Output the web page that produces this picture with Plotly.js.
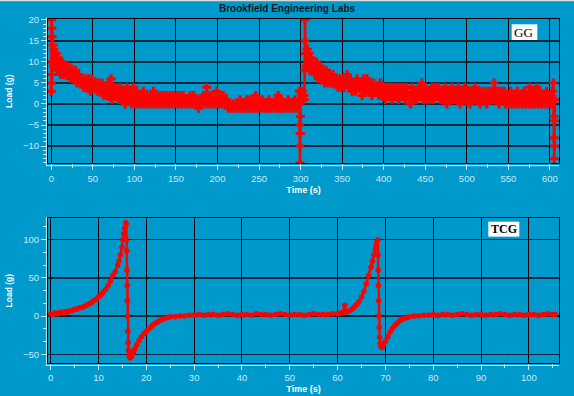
<!DOCTYPE html>
<html><head><meta charset="utf-8">
<script src="https://cdn.plot.ly/plotly-3.0.1.min.js"></script>
<style>html,body{margin:0;padding:0;background:#0099cc;} #chart{width:574px;height:396px;}</style>
</head><body><div id="chart"></div>
<script>
// ---- GG panel data (time s, load g) ----
const ggTime = [
 0,0.2,0.4,0.6,0.8,1,1.5,2,2.5,3,3.5,4,5,6,7,8,9,10,
 11,13,15,17,19,21,23,25,27,29,
 31,33,35,37,39,41,43,45,47,49,
 51,53,55,57,59,61,63,65,67,69,
 71,72,73,75,77,79,81,83,85,87,
 89,91,93,95,97,99,101,103,105,107,
 109,111,113,115,117,119,121,123,125,127,
 129,131,133,135,137,139,141,143,145,147,
 149,151,153,155,157,159,161,163,165,167,
 169,171,173,175,177,179,181,183,185,187,
 189,191,193,195,197,199,201,203,205,207,
 209,211,213,215,217,219,221,223,225,227,
 229,231,233,235,237,239,241,243,245,246,
 248,250,252,254,256,258,260,262,264,266,
 268,270,272,273,275,277,279,281,283,285,
 287,289,291,293,295,297,
 298,298.5,299,299.2,299.4,299.6,299.8,300,300.5,301,302,303,304,304.5,305,305.3,305.6,306,307,308,309,310,311,312,313,
 315,317,319,321,323,325,327,329,331,333,
 335,337,339,341,343,345,347,349,351,353,
 355,356,358,360,362,364,366,368,370,372,
 374,376,378,380,382,384,386,388,390,392,
 394,396,398,400,402,404,406,408,410,412,
 414,416,418,420,422,424,426,428,430,432,
 434,436,438,440,442,444,446,448,450,452,
 454,456,458,460,462,464,466,468,470,472,
 474,476,478,480,482,484,486,488,490,492,
 494,496,498,500,502,504,506,508,510,512,
 514,516,518,520,522,524,526,528,530,532,
 533,535,537,539,541,543,545,547,549,551,
 553,555,557,559,561,563,565,567,569,571,
 573,575,576,578,580,582,584,586,588,590,
 592,594,596,598,600,602,603,
 604,604.3,604.6,604.9,605.2,605.5,605.8,606.2
];
const ggLoad = [
 3,20,5,18,7,16,10,14,9,13,9,12,10,12,8,11,8,10,
 7,10,7,9,7,9,6,8,6,8,
 5,7,5,6,4,6,4,6,3,6,
 4,5,3,5,3,5,2,4,2,5,
 2,6,1,4,2,4,1,4,1,3,
 0,4,1,3,0,4,0,3,0,2,
 0,3,0,2,0,2,0,3,0,2,
 0,2,0,2,0,2,0,2,0,2,
 0,2,0,2,0,2,0,1,0,2,
 0,2,0,1,-1,1,0,2,0,4,
 0,2,0,2,0,3,0,2,0,2,
 0,1,-1,0,-1,0,-1,0,-1,1,
 -1,0,-1,1,-1,1,-1,1,-1,2,
 -1,1,-1,1,-1,0,-1,1,-1,0,
 -1,1,-1,2,-1,1,-1,0,-1,1,
 -1,0,-1,1,-1,0,
 0,3,-5,-14,-10,-7,-3,1,3,2,3,1,2,1,8,20,15,12,9,13,9,12,8,11,8,
 10,7,10,6,9,6,8,5,8,5,
 7,5,7,5,6,4,6,4,6,4,
 6,7,4,6,3,5,3,6,4,5,
 2,6,3,6,3,5,2,5,3,4,
 2,5,2,4,1,4,2,4,1,4,
 2,4,1,4,2,4,1,4,2,0,
 4,1,3,1,4,2,5,1,4,1,
 3,1,4,1,4,2,4,1,3,1,
 4,0,3,1,4,1,3,1,4,0,
 3,1,4,1,3,0,3,1,4,1,
 3,0,3,1,3,0,3,1,3,1,
 5,1,3,0,3,1,3,0,2,0,
 3,0,2,0,3,0,2,0,3,0,
 2,0,4,0,3,0,4,0,3,0,
 2,0,3,0,2,0,3,
 5,1,-3,-8,-13,-10,-4,1
];
// ---- TCG panel data (time s, load g) ----
const tcgTime = [
 0,0.5,1,1.5,2,2.5,3,3.5,4,4.5,
 5,5.5,6,6.5,7,7.5,8,8.5,9,9.5,
 10,10.5,11,11.5,12,12.5,13,13.5,14,14.3,
 14.6,14.9,15.1,15.3,15.5,15.7,15.8,15.85,15.9,15.95,
 16,16.05,16.1,16.15,16.2,16.3,16.4,16.6,16.8,17,
 17.3,17.6,18,18.5,19,19.5,20,20.5,21,21.5,
 22,22.5,23,23.5,24,24.5,25,26,27,28,
 29,30,31,32,33,34,35,36,37,38,
 39,40,41,42,43,44,45,46,47,48,
 49,50,51,52,53,54,55,56,57,58,
 59,60,60.5,61,61.5,61.7,62,62.5,63,63.5,
 64,64.5,65,65.5,66,66.5,67,67.3,67.6,67.9,
 68.1,68.3,68.4,68.45,68.5,68.55,68.6,68.65,68.7,68.8,
 68.9,69.1,69.3,69.6,70,70.5,71,71.5,72,72.5,
 73,73.5,74,74.5,75,76,77,78,79,80,
 81,82,83,84,85,86,87,88,89,90,
 91,92,93,94,95,96,97,98,99,100,
 101,102,103,104,105,105.5
];
const tcgLoad = [
 3,2,4,3,5,4,6,5,7,7,
 9,9,11,11,13,14,16,17,20,22,
 25,28,31,35,40,46,53,58,66,72,
 80,90,100,108,115,122,120,100,85,60,
 40,20,0,-20,-35,-45,-52,-55,-54,-51,
 -47,-43,-38,-32,-27,-23,-20,-17,-14,-11,
 -9,-7,-5,-4,-3,-2,-1,-1,0,0,
 1,1,2,1,2,2,1,2,3,2,
 1,2,2,1,3,2,2,1,2,3,
 2,1,2,2,1,2,3,2,2,2,
 3,3,4,4,14,5,6,7,9,12,
 15,19,25,32,42,53,64,72,80,88,
 94,99,100,80,60,40,20,0,-15,-28,
 -36,-40,-41,-38,-33,-27,-21,-16,-12,-9,
 -6,-4,-3,-2,-1,0,0,1,1,2,
 1,2,2,1,2,3,2,1,2,2,
 1,2,2,3,2,1,2,2,1,2,
 2,1,2,3,2,2
];
// ---- tick values ----
const ggXTicks = [0,50,100,150,200,250,300,350,400,450,500,550,600];
const ggYTicks = [-10,-5,0,5,10,15,20];
const tcgXTicks = [0,10,20,30,40,50,60,70,80,90,100];
const tcgYTicks = [-50,0,50,100];

const BG = '#0099cc';
const LIGHT = '#c6ecf8';
const FONT = 'Liberation Sans, Arial, sans-serif';
const W = 574, H = 396, ML = 48, MR = 15, MT = 19, MB = 33;
const PW = W - ML - MR, PH = H - MT - MB;
const topDom = [0.5805, 1.0], botDom = [0.0, 0.4206];
const topH = (topDom[1]-topDom[0])*PH, botH = (botDom[1]-botDom[0])*PH;

function xAxis(range, ticks, minorDtick, anchor) {
  return {
    range: range, tickmode: 'array', tickvals: ticks, anchor: anchor,
    showgrid: true, gridcolor: '#000', gridwidth: 1, zeroline: false,
    showline: true, linecolor: '#000', linewidth: 1, mirror: true,
    ticks: 'outside', ticklen: 6, tickcolor: LIGHT, tickwidth: 1,
    tickfont: {family: FONT, size: 9.5, color: LIGHT},
    minor: {dtick: minorDtick, tick0: 0, ticks: 'outside', ticklen: 4, tickcolor: LIGHT, showgrid: false},
    title: {text: 'Time (s)', font: {family: FONT, size: 9, color: '#ffffff', weight: 'bold'}, standoff: 3},
    fixedrange: true, automargin: false
  };
}
function yAxis(range, ticks, minorDtick, domain, anchor) {
  return {
    range: range, domain: domain, tickmode: 'array', tickvals: ticks, anchor: anchor,
    showgrid: true, gridcolor: '#00283a', gridwidth: 1.5, zeroline: false,
    showline: true, linecolor: '#000', linewidth: 1, mirror: true,
    ticks: 'outside', ticklen: 6, tickcolor: LIGHT, tickwidth: 1,
    tickfont: {family: FONT, size: 9.5, color: LIGHT},
    minor: {dtick: minorDtick, tick0: 0, ticks: 'outside', ticklen: 4, tickcolor: LIGHT, showgrid: false},
    title: {text: 'Load (g)', font: {family: FONT, size: 8.5, color: '#ffffff', weight: 'bold'}, standoff: 8},
    fixedrange: true, automargin: false
  };
}

const traces = [
  {x: ggTime, y: ggLoad, xaxis: 'x', yaxis: 'y', type: 'scatter', mode: 'lines+markers',
   line: {color: '#ff0000', width: 2.5}, marker: {color: '#ff0000', symbol: 'cross', size: 7.5},
   hoverinfo: 'skip', showlegend: false},
  {x: tcgTime, y: tcgLoad, xaxis: 'x2', yaxis: 'y2', type: 'scatter', mode: 'lines+markers',
   line: {color: '#ff0000', width: 2.5}, marker: {color: '#ff0000', symbol: 'circle', size: 5.5},
   hoverinfo: 'skip', showlegend: false}
];

function lightLines(xr, yr, h) {
  return [
    {type: 'line', xref: xr + ' domain', yref: yr + ' domain', x0: -0.004, x1: 1.0, y0: -2.4/h, y1: -2.4/h,
     line: {color: LIGHT, width: 1}},
    {type: 'line', xref: xr + ' domain', yref: yr + ' domain', x0: -1.6/PW, x1: -1.6/PW, y0: -2.4/h, y1: 1.01,
     line: {color: LIGHT, width: 1}}
  ];
}

const layout = {
  width: W, height: H,
  margin: {l: ML, r: MR, t: MT, b: MB, pad: 0},
  paper_bgcolor: BG, plot_bgcolor: BG,
  showlegend: false,
  title: {text: 'Brookfield Engineering Labs', font: {family: FONT, size: 10, color: '#0c1824', weight: 'bold'},
          x: 0.5, xref: 'container', xanchor: 'center', y: 1 - 8.5/H, yref: 'container', yanchor: 'middle'},
  xaxis: xAxis([-4, 611], ggXTicks, 25, 'y'),
  yaxis: yAxis([-14.1, 20.2], ggYTicks, 1, topDom, 'x'),
  xaxis2: xAxis([-0.56, 106.3], tcgXTicks, 5, 'y2'),
  yaxis2: yAxis([-61.4, 127.9], tcgYTicks, 50/3, botDom, 'x2'),
  shapes: [].concat(
    lightLines('x', 'y', topH),
    lightLines('x2', 'y2', botH),
    [
      {type: 'rect', xref: 'paper', yref: 'paper', x0: 0.9074, x1: 0.9575, y0: 0.939, y1: 0.9846,
       fillcolor: '#ffffff', line: {width: 0}},
      {type: 'rect', xref: 'paper', yref: 'paper', x0: 0.8617, x1: 0.9223, y0: 0.3672, y1: 0.4108,
       fillcolor: '#ffffff', line: {width: 0}},
      {type: 'line', xref: 'paper', yref: 'paper', x0: -0.2, x1: 1.2, y0: (H-MB-0.6)/PH, y1: (H-MB-0.6)/PH,
       line: {color: '#dcdcdc', width: 1.5}}
    ]
  ),
  annotations: [
    {text: 'GG', xref: 'paper', yref: 'paper', x: 0.9074 + 0.5/PW, y: 0.9618, xanchor: 'left', yanchor: 'middle',
     showarrow: false, font: {family: 'Liberation Serif, Times New Roman, serif', size: 13, color: '#000'}},
    {text: 'TCG', xref: 'paper', yref: 'paper', x: 0.8617 + 1/PW, y: 0.389, xanchor: 'left', yanchor: 'middle',
     showarrow: false, font: {family: 'Liberation Serif, Times New Roman, serif', size: 12, color: '#000', weight: 'bold'}}
  ]
};

Plotly.newPlot('chart', traces, layout, {staticPlot: true, displayModeBar: false});
</script>
</body></html>
